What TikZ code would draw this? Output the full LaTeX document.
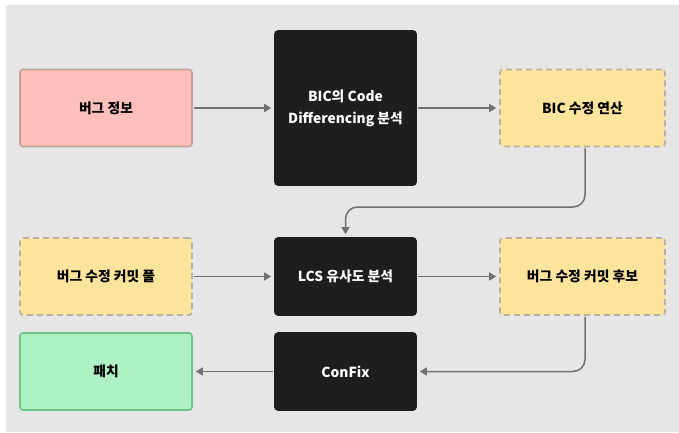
\documentclass[tikz,border=0pt]{standalone}
\usepackage{fontspec}
\setmainfont{Noto Sans CJK KR}
\usetikzlibrary{arrows.meta}
\definecolor{bg}{HTML}{E6E6E6}
\definecolor{pinkf}{HTML}{FFC0BC}
\definecolor{pinkd}{HTML}{BFA3A1}
\definecolor{yelf}{HTML}{FDE49C}
\definecolor{yeld}{HTML}{B8B2A0}
\definecolor{grnf}{HTML}{AEF1C4}
\definecolor{grnd}{HTML}{6AC48C}
\definecolor{blk}{HTML}{1E1E1E}
\definecolor{arrc}{HTML}{707070}
\tikzset{
  x=1pt, y=-1pt,
  box/.style={rounded corners=3pt, line width=1.6pt, align=center, font=\bfseries\fontsize{13.8}{22}\selectfont, inner sep=0pt},
  pinkbox/.style={box, fill=pinkf, draw=pinkd, minimum width=172pt, minimum height=77pt},
  yelbox/.style={box, fill=yelf, draw=yeld, dash pattern=on 6pt off 4pt},
  grnbox/.style={box, fill=grnf, draw=grnd, minimum width=172pt, minimum height=77pt},
  blkbox/.style={box, fill=blk, draw=blk, text=white, minimum width=141pt},
  arr/.style={draw=arrc, line width=1.5pt, -{Triangle[length=7pt,width=8pt]}, shorten >=3pt, shorten <=1pt},
}
\begin{document}
\begin{tikzpicture}
\fill[white] (0,0) rectangle (679,432);
\fill[bg] (6,5) rectangle (679,432);
\useasboundingbox (0,0) rectangle (679,432);
\node[pinkbox] (info) at (106,108) {버그 정보};
\node[blkbox, minimum height=154pt] (bic) at (345.5,108) {BIC의 Code\\Differencing 분석};
\node[yelbox, minimum width=165pt, minimum height=77pt] (op) at (582.5,108) {BIC 수정 연산};
\node[yelbox, minimum width=172pt, minimum height=77pt] (pool) at (106,276.5) {버그 수정 커밋 풀};
\node[blkbox, minimum height=77pt] (lcs) at (345.5,276.5) {LCS 유사도 분석};
\node[yelbox, minimum width=165pt, minimum height=77pt] (cand) at (582.5,276.5) {버그 수정 커밋 후보};
\node[grnbox] (patch) at (106,371.5) {패치};
\node[blkbox, minimum height=77pt] (confix) at (345.5,371.5) {ConFix};
\coordinate (m1) at (345.5,207);
\draw[arr] (info) -- (bic);
\draw[arr] (bic) -- (op);
\draw[arr] (pool) -- (lcs);
\draw[arr] (lcs) -- (cand);
\draw[arr] (confix) -- (patch);
\draw[arr, rounded corners=12pt] ([xshift=2.5pt]op.south) |- (m1) -- (lcs.north);
\draw[arr, rounded corners=12pt] ([xshift=2.5pt]cand.south) |- (confix.east);
\end{tikzpicture}
\end{document}
